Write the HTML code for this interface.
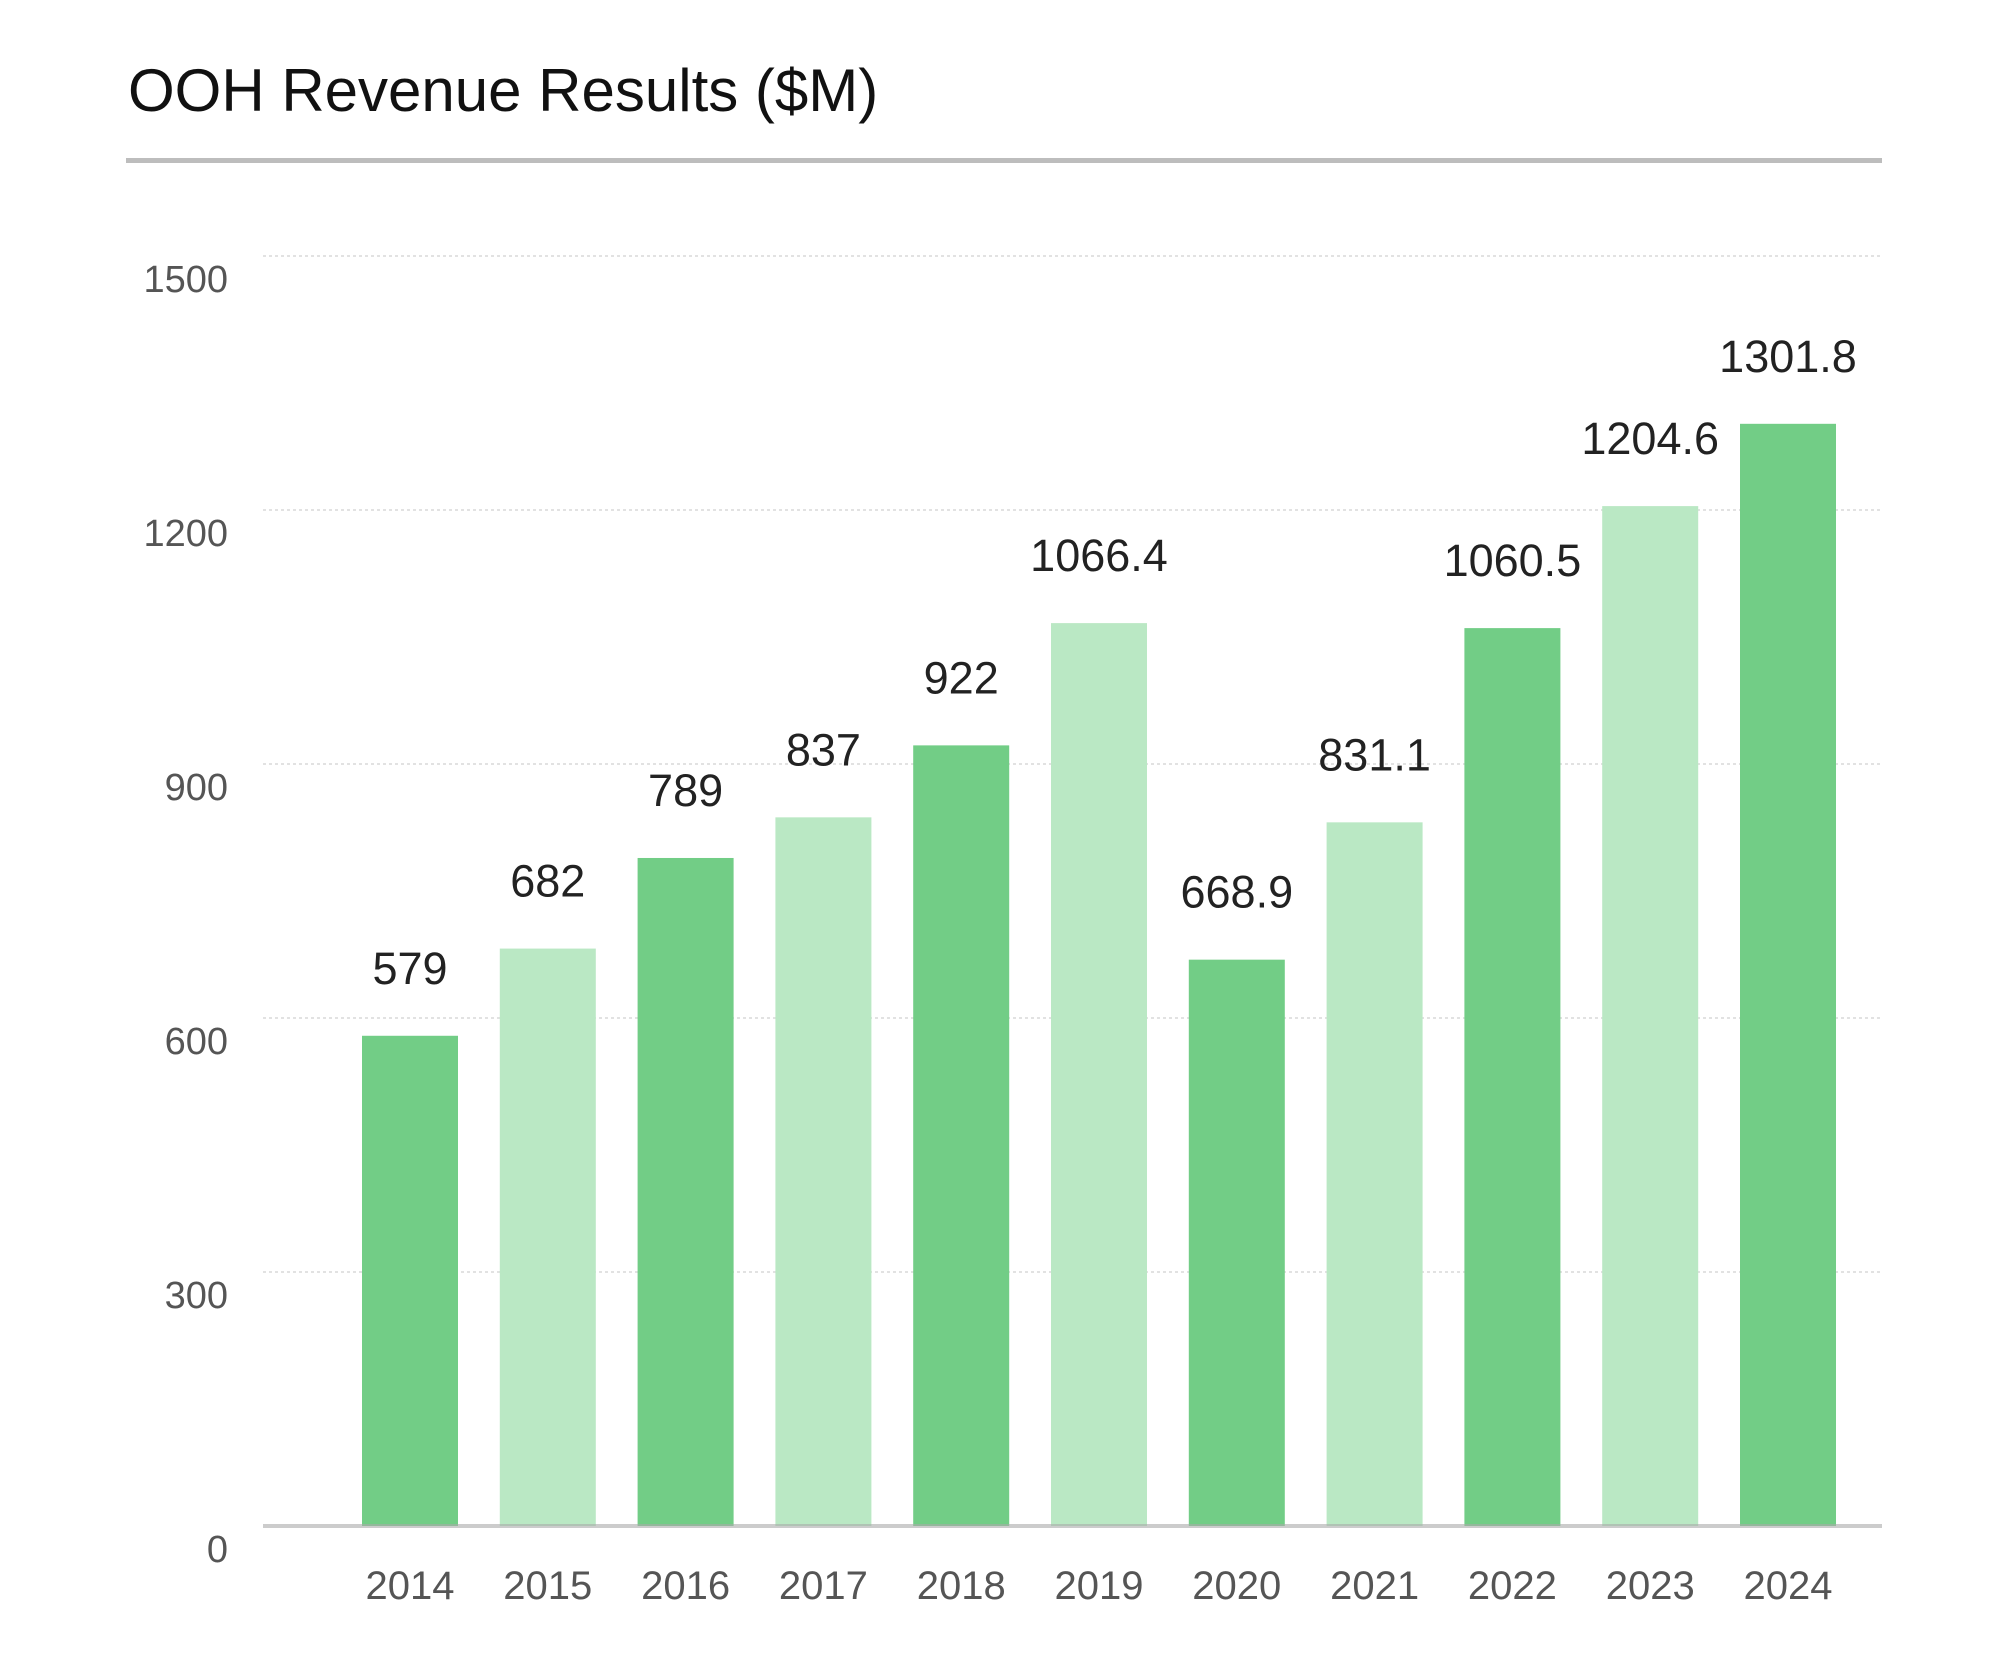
<!DOCTYPE html>
<html><head><meta charset="utf-8"><style>
body{margin:0;background:#fff;}
svg{display:block;font-family:"Liberation Sans",sans-serif;}
</style></head><body>
<svg id="chart" width="2000" height="1660">
<text x="128" y="111" font-size="60" fill="#111">OOH Revenue Results ($M)</text>
<rect x="126" y="158" width="1756" height="5" fill="#bdbdbd"/>
<g id="grid"></g><g id="bars"></g><g id="labels"></g>
</svg>
<script>
const categories=["2014","2015","2016","2017","2018","2019","2020","2021","2022","2023","2024"];
const values=[579,682,789,837,922,1066.4,668.9,831.1,1060.5,1204.6,1301.8];
const valueLabels=["579","682","789","837","922","1066.4","668.9","831.1","1060.5","1204.6","1301.8"];
const yTicks=[0,300,600,900,1200,1500];
const NS="http://www.w3.org/2000/svg";
const x0=263,x1=1882,yBase=1526,yTop=256,yMax=1500;
const y=v=>yBase-(v/yMax)*(yBase-yTop);
const firstC=410,step=137.8,bw=96;
const xc=i=>firstC+i*step;
function mk(t,a,p){const e=document.createElementNS(NS,t);for(const k in a)e.setAttribute(k,a[k]);p.appendChild(e);return e;}
const g=document.getElementById('grid'),b=document.getElementById('bars'),l=document.getElementById('labels');
yTicks.forEach(t=>{
 if(t>0){const ln=mk('line',{x1:x0,x2:x1,y1:y(t),y2:y(t),stroke:'#d8d8d8','stroke-width':1.5,'stroke-dasharray':'3,3'},g);
 
 }
 const tx=mk('text',{x:228,y:y(t)+36,'font-size':38,fill:'#555','text-anchor':'end'},g);tx.textContent=t;
 
 
});
categories.forEach((c,i)=>{
 const r=mk('rect',{x:xc(i)-bw/2,y:y(values[i]),width:bw,height:yBase-y(values[i]),fill:i%2?'#bae8c4':'#72cd86'},b);
 
 
 const v=mk('text',{x:xc(i),y:y(values[i])-52,'font-size':45,fill:'#222','text-anchor':'middle'},l);v.textContent=valueLabels[i];
 
 
 const xt=mk('text',{x:xc(i),y:1599,'font-size':40,fill:'#555','text-anchor':'middle'},l);xt.textContent=c;
 
 
});
const base=mk('rect',{x:x0,y:yBase-2,width:x1-x0,height:4,fill:'#aaa',opacity:0.6},l);


</script>
</body></html>
